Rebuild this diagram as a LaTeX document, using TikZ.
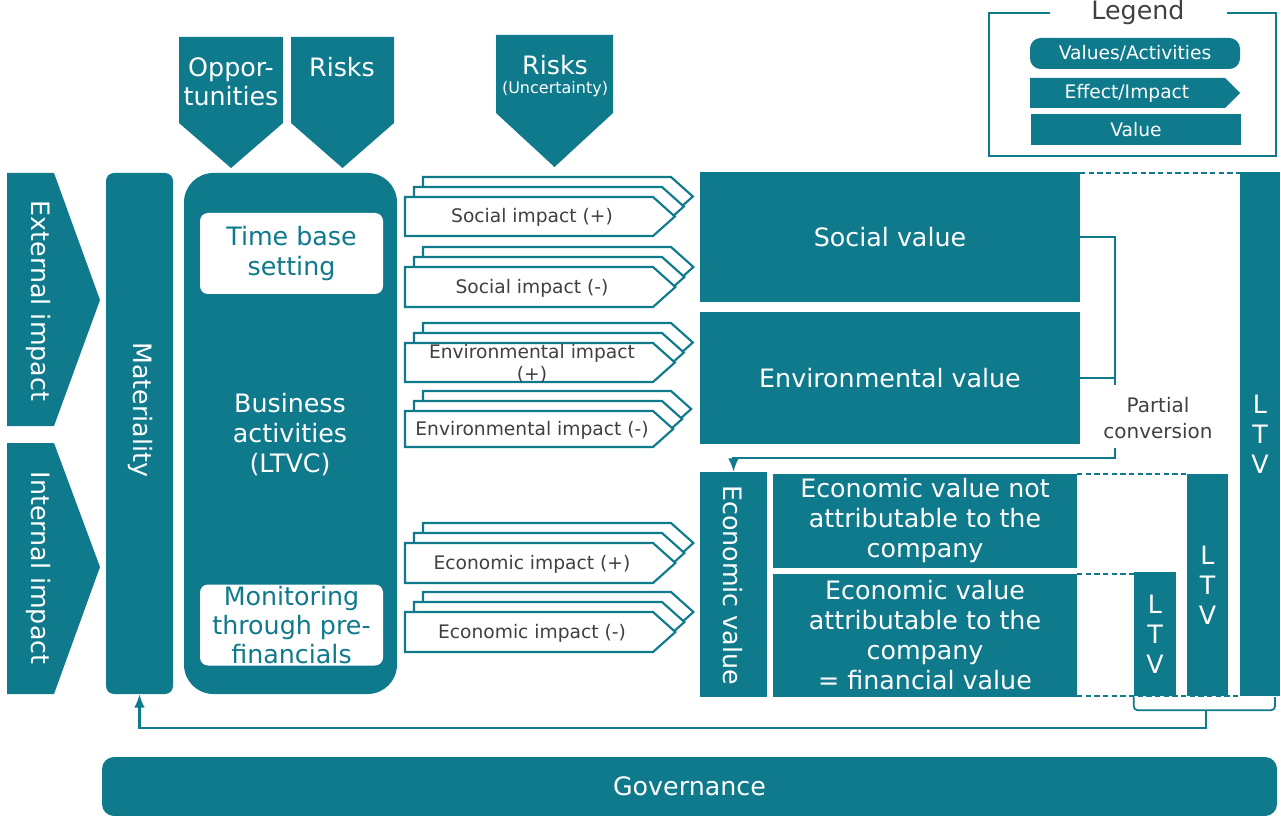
\documentclass[tikz,border=0pt]{standalone}
\usepackage{fontspec}
\setmainfont{DejaVu Sans}
\usepackage{tikz}
\usetikzlibrary{arrows}
\usetikzlibrary{arrows.meta}
\usetikzlibrary{positioning}
\definecolor{petrol}{RGB}{14,122,140}
\definecolor{inkgrey}{RGB}{64,64,64}
\newcommand{\largetxt}{\fontsize{19}{22.5}\selectfont}
\newcommand{\smalltxt}{\fontsize{14}{16.5}\selectfont}
\newcommand{\tinytxt}{\fontsize{12}{14}\selectfont}
\tikzset{val/.style = {fill = petrol, text = white, inner sep = 0, align = center, font = \largetxt}}
\tikzset{act/.style = {val, rounded corners = 6pt}}
\tikzset{note/.style = {fill = white, text = petrol, inner sep = 0, align = center, font = \largetxt, rounded corners = 6pt}}
\tikzset{imp/.style = {draw = petrol, fill = white, line width = 1.6pt, line join = miter}}
\tikzset{imptxt/.style = {text = inkgrey, align = center, font = \smalltxt}}
\tikzset{conn/.style = {draw = petrol, line width = 1.6pt}}
\tikzset{tip/.style = {-{Latex[length = 10pt, width = 8pt]}}}
\tikzset{dash line/.style = {draw = petrol, line width = 1.3pt, dash pattern = on 4pt off 2.5pt}}
\tikzset{txt/.style = {text = white, align = center, font = \largetxt}}

\begin{document}
\begin{tikzpicture}[x = 0.75pt, y = -0.75pt]

    \useasboundingbox (0, 0) rectangle (1281, 816);

    % incoming opportunities and risks
    \fill [petrol] (179, 37) -- (283, 37) -- (283, 123) -- (231, 168) -- (179, 123) -- cycle;
    \fill [petrol] (291, 37) -- (394, 37) -- (394, 123) -- (342.5, 168) -- (291, 123) -- cycle;
    \fill [petrol] (496, 35) -- (613, 35) -- (613, 113) -- (554.5, 167) -- (496, 113) -- cycle;
    \node [txt, font = \largetxt\linespread{0.95}\selectfont] (opp) at (231, 82) {Oppor-\\tunities};
    \node [txt] (risk) at (342, 67) {Risks};
    \node [txt] (unc) at (555, 65) {Risks};
    \node [txt, font = \tinytxt] (unc2) at (555, 89) {(Uncertainty)};

    % external and internal impact
    \fill [petrol] (7, 173) -- (54, 173) -- (100, 300) -- (54, 426) -- (7, 426) -- cycle;
    \fill [petrol] (7, 443) -- (54, 443) -- (100, 567) -- (54, 694) -- (7, 694) -- cycle;
    \node [txt, rotate = -90] (ext) at (38, 301) {External impact};
    \node [txt, rotate = -90] (int) at (38, 568) {Internal impact};

    % materiality and business activities
    \node [act, minimum width = 50.25pt, minimum height = 390.75pt] (mat) at (139.5, 433.5) {};
    \node [txt, rotate = -90] (matlbl) at (140, 410) {Materiality};
    \node [val, rounded corners = 22pt, minimum width = 159.75pt, minimum height = 390.75pt] (biz) at (290.5, 433.5) {};
    \node [note, minimum width = 137.25pt, minimum height = 60.75pt] (time) at (291.5, 253.5) {Time base\\setting};
    \node [txt] (bizlbl) at (290, 435) {Business\\activities\\(LTVC)};
    \node [note, minimum width = 137.25pt, minimum height = 60.75pt, font = \largetxt\linespread{0.97}\selectfont] (mon) at (291.5, 625) {Monitoring\\through pre-\\financials};

    % stacked impacts
    \foreach \yt/\yb/\lbl [count = \i] in {197/236/{Social impact (+)}, 267/307/{Social impact (-)},
        343/382/{Environmental impact\\(+)}, 411/447/{Environmental impact (-)},
        543/583/{Economic impact (+)}, 612/652/{Economic impact (-)}} {
      \foreach \k in {2, 1, 0} {
        \draw [imp] ({405 + 9*\k}, {\yt - 10*\k}) -- ({653 + 9*\k}, {\yt - 10*\k})
          -- ({653 + 9*\k + 0.56*(\yb - \yt)}, {(\yt + \yb)/2 - 10*\k})
          -- ({653 + 9*\k}, {\yb - 10*\k}) -- ({405 + 9*\k}, {\yb - 10*\k}) -- cycle;
      }
      \node [imptxt] (imp\i) at (532, {(\yt + \yb)/2 + 1}) {\lbl};
    }

    % hidden lines to the LTV columns
    \draw [dash line] (1080, 173) -- (1240, 173);
    \draw [dash line] (1077, 474) -- (1187, 474);
    \draw [dash line] (1077, 574) -- (1134, 574);
    \draw [dash line] (1077, 696) -- (1240, 696);

    % values
    \node [val, minimum width = 285pt, minimum height = 97.5pt] (social) at (890, 237) {Social value};
    \node [val, minimum width = 285pt, minimum height = 99pt] (env) at (890, 378) {Environmental value};
    \node [val, minimum width = 50.25pt, minimum height = 168.75pt] (econ) at (733.5, 584.5) {};
    \node [txt, rotate = -90] (econlbl) at (733, 585) {Economic value};
    \node [val, minimum width = 228pt, minimum height = 70.5pt] (econnot) at (925, 521) {Economic value not\\attributable to the\\company};
    \node [val, minimum width = 228pt, minimum height = 92.25pt] (econfin) at (925, 635.5) {Economic value\\attributable to the\\company\\= financial value};

    \node [val, minimum width = 31.5pt, minimum height = 93pt] (ltv1) at (1155, 634) {L\\T\\V};
    \node [val, minimum width = 30.75pt, minimum height = 166.5pt] (ltv2) at (1207.5, 585) {L\\T\\V};
    \node [val, minimum width = 30pt, minimum height = 393pt] (ltv3) at (1260, 434) {L\\T\\V};

    % partial conversion
    \coordinate (join) at (1115, 385);
    \coordinate (drop) at (1115, 448);
    \draw [conn] (social.east) -| (join);
    \draw [conn] (env.east) -- (env.east -| join);
    \node [imptxt, font = \fontsize{15}{19.5}\selectfont] (pc) at (1158, 418) {Partial\\conversion};
    \draw [conn, tip] (drop) -- ++(0, 10) -| (econ.north);

    % feedback to materiality
    \coordinate (brace) at (1206, 711);
    \draw [conn, line width = 1.3pt, rounded corners = 3pt] (ltv1.south west) -- ++(0, 14) -| (1275, 697);
    \draw [conn, tip] (brace) -- ++(0, 17) -| (mat.south);

    % governance
    \node [val, rounded corners = 9pt, minimum width = 881.25pt, minimum height = 44.25pt] (gov) at (689.5, 786.5) {Governance};

    % legend
    \draw [draw = petrol, line width = 1.6pt] (1050, 13) -- (989, 13) -- (989, 156) -- (1276, 156) -- (1276, 13) -- (1227, 13);
    \node [text = inkgrey, font = \largetxt] (legend) at (1138, 13) {Legend};
    \node [act, font = \smalltxt, rounded corners = 8pt, minimum width = 157.5pt, minimum height = 23.25pt] (lact) at (1135, 53.5) {Values/Activities};
    \fill [petrol] (1030, 78) -- (1225, 78) -- (1240, 93) -- (1225, 108) -- (1030, 108) -- cycle;
    \node [txt, font = \smalltxt] (limp) at (1127, 93) {Effect/Impact};
    \node [val, font = \smalltxt, minimum width = 157.5pt, minimum height = 23.25pt] (lval) at (1136, 129.5) {Value};

\end{tikzpicture}
\end{document}
